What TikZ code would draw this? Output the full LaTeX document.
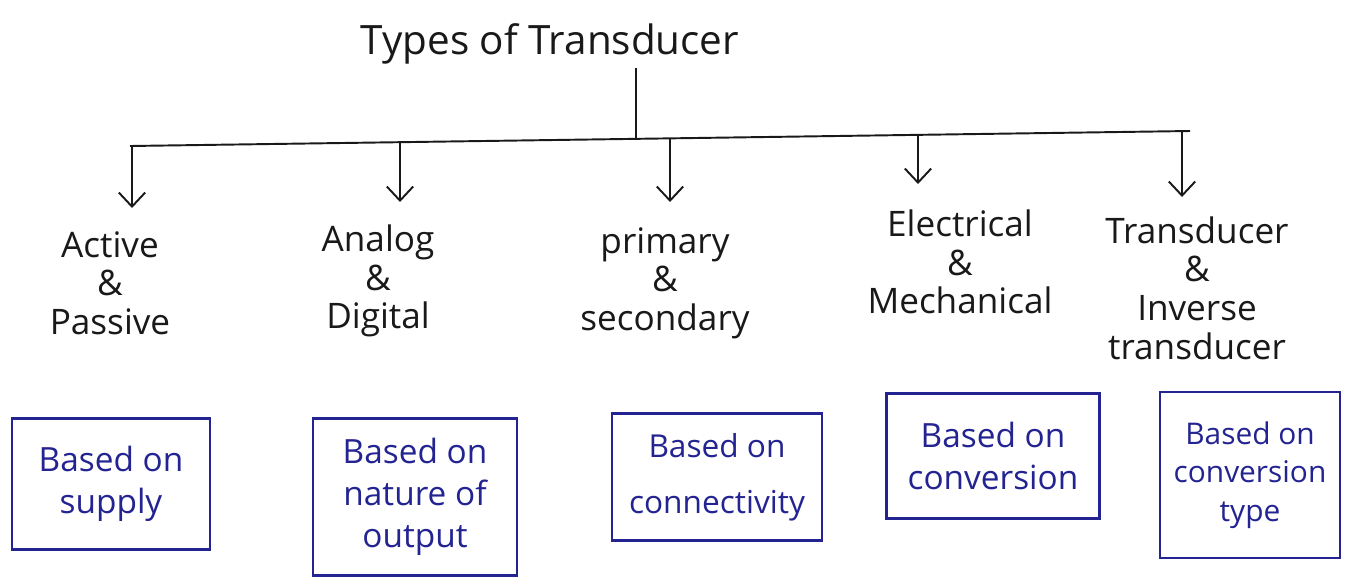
\documentclass[tikz,border=0pt]{standalone}
\usepackage{fontspec}
\setmainfont{Open Sans}
\usetikzlibrary{arrows.meta}
\definecolor{ink}{RGB}{25,25,25}
\definecolor{pen}{RGB}{35,35,145}
\tikzset{
  bus/.style={draw=ink, line width=1.1pt},
  branch/.style={draw=ink, line width=1.1pt, -{Straight Barb[length=8pt,width=15pt,line width=1.1pt]}},
  cat/.style={align=center, text=ink, font=\fontsize{20}{22}\selectfont, inner sep=0pt},
  basis/.style={draw=pen, line width=1.3pt, text=pen, align=center,
    font=\fontsize{19}{24}\selectfont, inner sep=2pt},
  title/.style={text=ink, font=\fontsize{23}{26}\selectfont, inner sep=0pt}
}
\begin{document}
\begin{tikzpicture}[x=0.02cm, y=-0.02cm]
\useasboundingbox (0,0) rectangle (1348,579);
\fill[white] (0,0) rectangle (1348,579);
% title
\node[title] (title) at (550,44) {Types of Transducer};
\coordinate (stem) at (636,68);
\coordinate (busL) at (130,146);
\coordinate (busR) at (1190,131);
\coordinate (j0) at (636,138.8);
\coordinate (j1) at (132,146);
\coordinate (j2) at (400,142.2);
\coordinate (j3) at (670,138.4);
\coordinate (j4) at (918,134.8);
\coordinate (j5) at (1182,131.1);
\draw[bus] (stem) -- (j0);
\draw[bus] (busL) -- (busR);
% categories
\node[cat] (c1) at (110,283) {Active\\\&\\Passive};
\node[cat] (c2) at (378,281) {Analog\\\&\\Digital};
\node[cat] (c3) at (665,283) {primary\\\&\\secondary};
\node[cat] (c4) at (960,262) {Electrical\\\&\\Mechanical};
\node[cat] (c5) at (1197,288) {Transducer\\\&\\Inverse\\transducer};
\coordinate (a1) at (132,208);
\coordinate (a2) at (400,202);
\coordinate (a3) at (670,202);
\coordinate (a4) at (918,184);
\coordinate (a5) at (1182,197);
\draw[branch] (j1) -- (a1);
\draw[branch] (j2) -- (a2);
\draw[branch] (j3) -- (a3);
\draw[branch] (j4) -- (a4);
\draw[branch] (j5) -- (a5);
% bases
\node[basis, minimum width=3.96cm, minimum height=2.62cm] (b1) at (111,484) {Based on\\supply};
\node[basis, minimum width=4.08cm, minimum height=3.14cm] (b2) at (415,497) {Based on\\nature of\\output};
\node[basis, minimum width=4.2cm, minimum height=2.54cm, font=\fontsize{18}{24}\selectfont] (b3) at (717,477) {Based on\\[8pt]connectivity};
\node[basis, minimum width=4.26cm, minimum height=2.5cm] (b4) at (993,456) {Based on\\conversion};
\node[basis, minimum width=3.6cm, minimum height=3.32cm, font=\fontsize{17}{22}\selectfont] (b5) at (1250,475) {Based on\\conversion\\type};
\end{tikzpicture}
\end{document}
